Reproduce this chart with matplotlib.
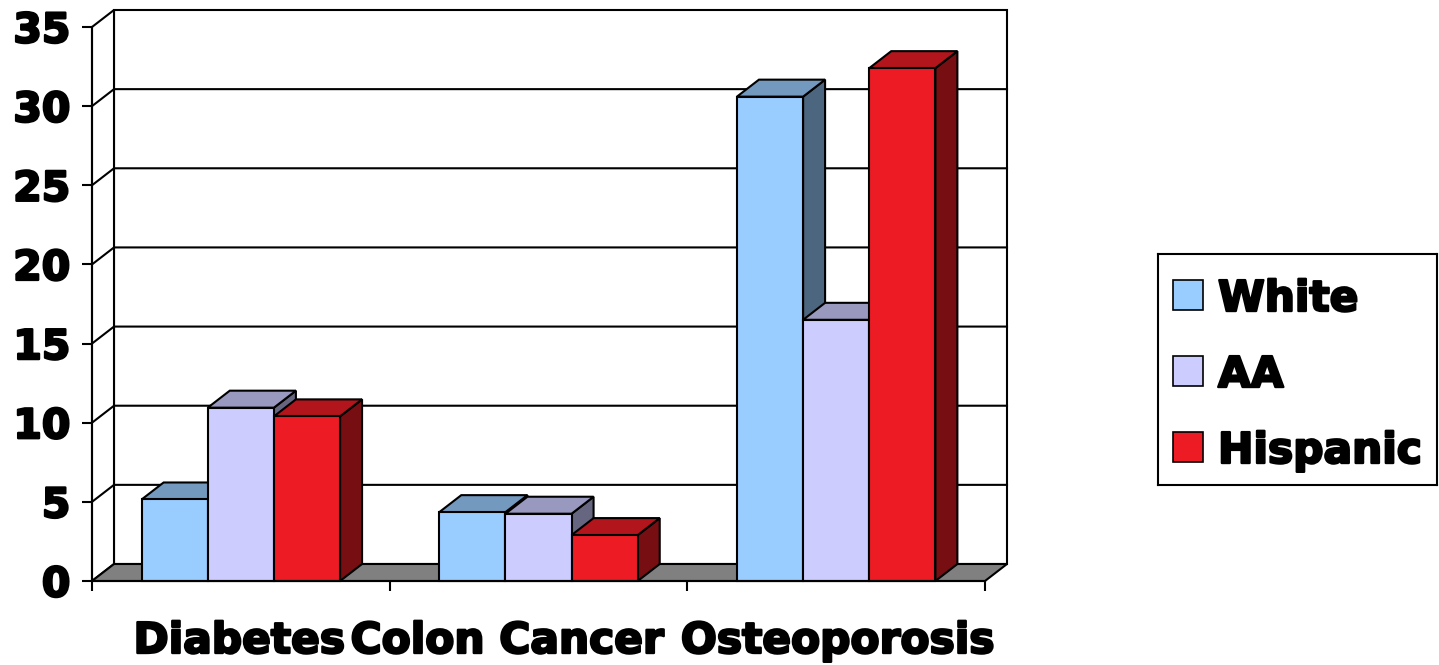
import matplotlib
matplotlib.use("Agg")
import matplotlib.pyplot as plt
import matplotlib.patheffects as pe
from matplotlib.patches import Polygon, Rectangle

categories = ["Diabetes", "Colon Cancer", "Osteoporosis"]
series_names = ["White", "AA", "Hispanic"]
white = [5.15, 4.35, 30.6]
aa = [10.95, 4.25, 16.5]
hispanic = [10.4, 2.9, 32.4]
yticks = [0, 5, 10, 15, 20, 25, 30, 35]

series_values = [white, aa, hispanic]
front_colors = ["#99CCFF", "#CCCCFF", "#ED1C24"]
top_colors = ["#7399BF", "#9999BF", "#B2151B"]
side_colors = ["#4D6680", "#666680", "#770E12"]

W, H = 1439, 665
fig = plt.figure(figsize=(W / 100, H / 100), dpi=100)
fig.patch.set_facecolor("white")
FONT = dict(family="DejaVu Sans", weight="bold", size=29.5)
FONT_CAT = dict(family="DejaVu Sans", weight="bold", size=30.5)
HEAVY = [pe.withStroke(linewidth=1.7, foreground="black")]

# axes = front plane of the 3D box
ax_l, ax_r, ax_b, ax_t = 92, 985, 84, 638
ax = fig.add_axes([ax_l / W, ax_b / H, (ax_r - ax_l) / W, (ax_t - ax_b) / H])
ncat = len(categories)
ymax = yticks[-1]
ax.set_xlim(0, ncat)
ax.set_ylim(0, ymax)
ax.set_facecolor("none")

# depth offset in data units (22 px right, 17 px up)
dxd = 22 / (ax_r - ax_l) * ncat
dyd = 17 / (ax_t - ax_b) * ymax

LW = 1.5
# back wall
ax.add_patch(Polygon([(dxd, dyd), (ncat + dxd, dyd), (ncat + dxd, ymax + dyd), (dxd, ymax + dyd)],
                     closed=True, facecolor="white", edgecolor="black", lw=LW, zorder=1, clip_on=False))
# left wall
ax.add_patch(Polygon([(0, 0), (0, ymax), (dxd, ymax + dyd), (dxd, dyd)],
                     closed=True, facecolor="white", edgecolor="black", lw=LW, zorder=1, clip_on=False))
# gridlines
for v in yticks[1:-1]:
    ax.plot([0, dxd, ncat + dxd], [v, v + dyd, v + dyd], color="black", lw=LW, zorder=1.5,
            clip_on=False, solid_joinstyle="miter")
# floor
ax.add_patch(Polygon([(0, 0), (ncat, 0), (ncat + dxd, dyd), (dxd, dyd)],
                     closed=True, facecolor="#808080", edgecolor="black", lw=LW, zorder=2, clip_on=False))

# bars
nser = len(series_values)
bw = 1 / (nser + 1.5)
z = 3
for i in range(ncat):
    for j, vals in enumerate(series_values):
        v = vals[i]
        x0 = i + 0.5 + (j - nser / 2) * bw
        x1 = x0 + bw
        ax.add_patch(Polygon([(x1, 0), (x1 + dxd, dyd), (x1 + dxd, v + dyd), (x1, v)], closed=True,
                             facecolor=side_colors[j], edgecolor="black", lw=LW, zorder=z, clip_on=False,
                             joinstyle="miter"))
        ax.add_patch(Polygon([(x0, v), (x1, v), (x1 + dxd, v + dyd), (x0 + dxd, v + dyd)], closed=True,
                             facecolor=top_colors[j], edgecolor="black", lw=LW, zorder=z + 0.1, clip_on=False,
                             joinstyle="miter"))
        ax.bar([x0], [v], width=bw, align="edge", color=front_colors[j], edgecolor="black",
               linewidth=LW, zorder=z + 0.2, clip_on=False)
        z += 1

# axes spines / ticks
for s in ["top", "right"]:
    ax.spines[s].set_visible(False)
for s in ["left", "bottom"]:
    ax.spines[s].set_linewidth(LW)
    ax.spines[s].set_zorder(50)
ax.set_yticks(yticks)
ax.set_yticklabels([str(t) for t in yticks], fontdict=FONT)
for t in ax.get_yticklabels():
    t.set_path_effects(HEAVY)
ax.set_xticks(range(ncat + 1))
ax.set_xticklabels([])
ax.tick_params(axis="both", direction="out", length=7.5, width=LW, color="black")
ax.tick_params(axis="y", pad=8)

# category labels
label_shift = [-0.005, -0.105, 0.005]
for i, c in enumerate(categories):
    ax.text(i + 0.5 + label_shift[i], (12 - ax_b) / (ax_t - ax_b), c, transform=ax.get_xaxis_transform(),
            ha="center", va="baseline", fontdict=FONT_CAT, clip_on=False, path_effects=HEAVY)

# legend
lg_l, lg_r, lg_top, lg_bot = 1158, 1437, 254, 485
lax = fig.add_axes([lg_l / W, (H - lg_bot) / H, (lg_r - lg_l) / W, (lg_bot - lg_top) / H])
lax.set_xlim(0, lg_r - lg_l)
lax.set_ylim(lg_bot - lg_top, 0)
lax.set_xticks([])
lax.set_yticks([])
for s in lax.spines.values():
    s.set_linewidth(LW)
    s.set_color("black")
for j, name in enumerate(series_names):
    top = 26 + j * 76
    lax.add_patch(Rectangle((15, top), 30, 30, facecolor=front_colors[j], edgecolor="black", lw=1.2))
    lax.text(60, top + 31, name, ha="left", va="baseline", fontdict=FONT_CAT, path_effects=HEAVY)

fig.savefig("out.png", dpi=100)
